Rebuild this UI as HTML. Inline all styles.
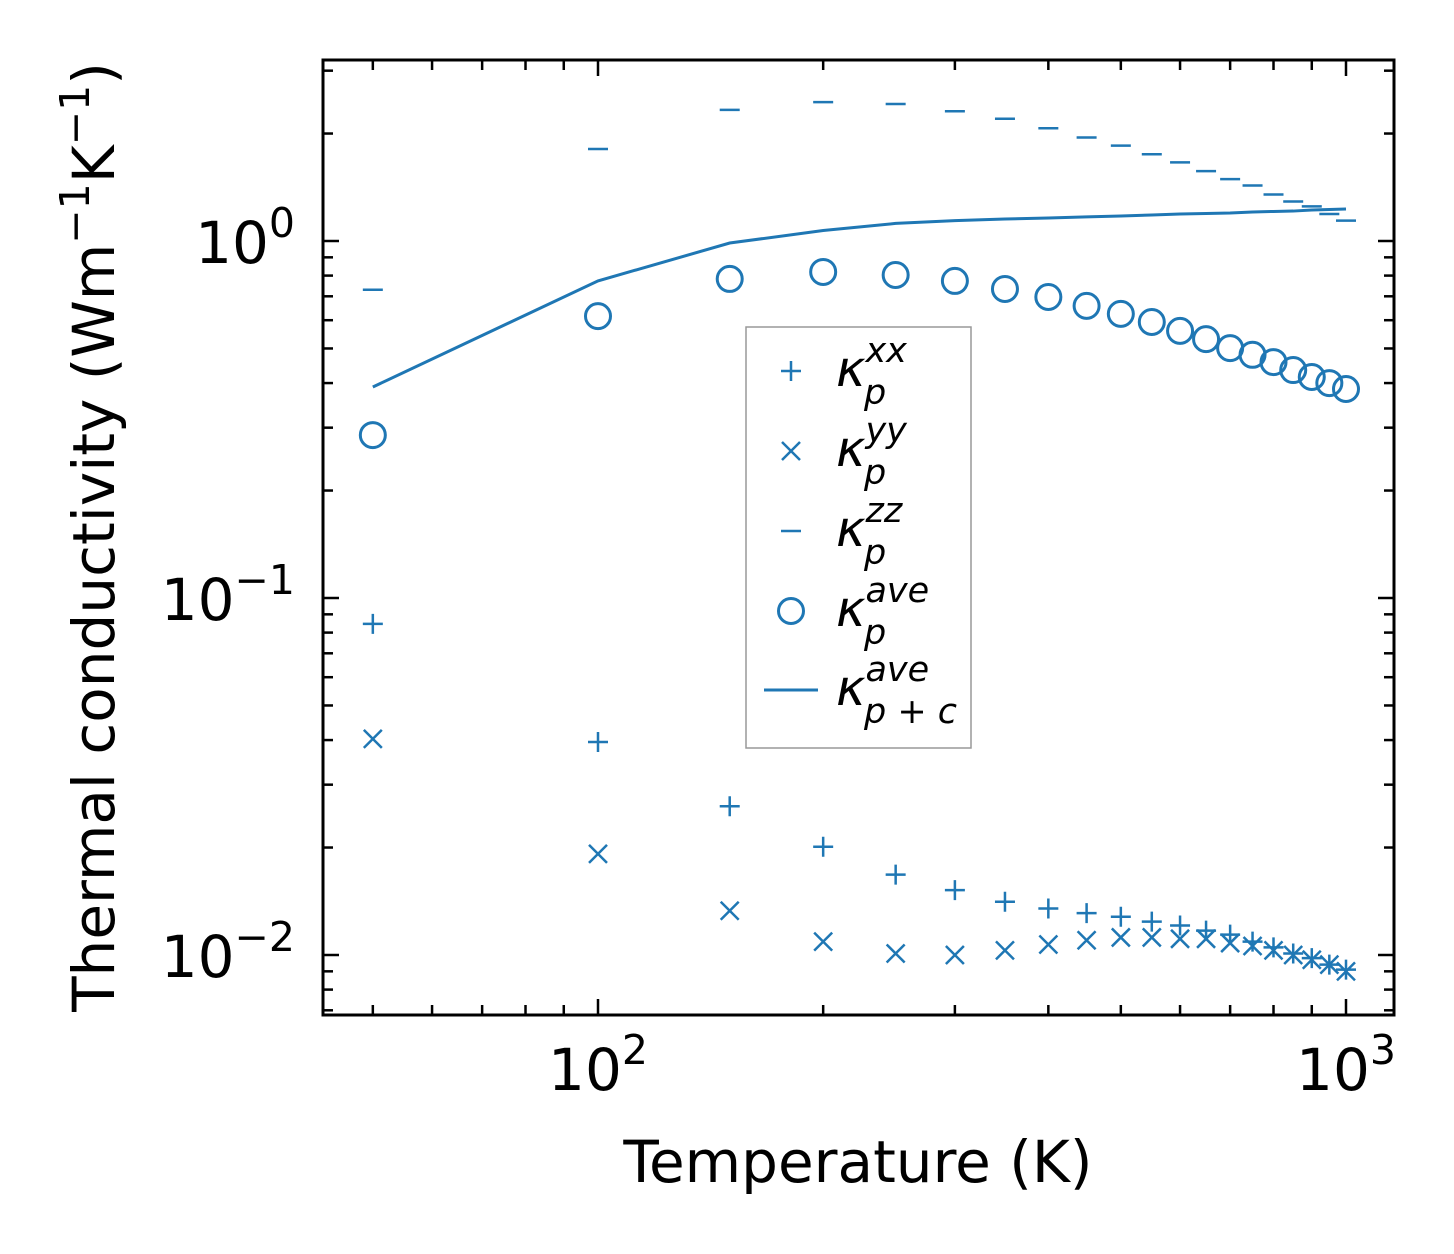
<!DOCTYPE html>
<html><head><meta charset="utf-8"><style>
body{margin:0;background:#fff}
svg{display:block}
text{font-family:"DejaVu Sans","Liberation Sans",sans-serif;fill:#000}
</style></head><body>
<svg id="chart" width="1454" height="1254" viewBox="0 0 1454 1254" xmlns="http://www.w3.org/2000/svg">
<rect width="1454" height="1254" fill="#fff"/>
<g id="marks"></g>
<g id="ticks"></g>
<rect x="323" y="60" width="1071" height="955" fill="none" stroke="#000" stroke-width="3"/>
<g id="legend">
<rect x="746" y="327" width="225" height="421" fill="#fff" stroke="#999" stroke-width="1.5"/>
</g>
<text x="858" y="1182" font-size="58" text-anchor="middle">Temperature (K)</text>
<text transform="translate(114,537) rotate(-90)" font-size="58" text-anchor="middle">Thermal conductivity (Wm<tspan font-size="41" dy="-25">−1</tspan><tspan dy="25">K</tspan><tspan font-size="41" dy="-25">−1</tspan><tspan dy="25">)</tspan></text>
</svg>
<script>
const temps=[50,100,150,200,250,300,350,400,450,500,550,600,650,700,750,800,850,900,950,1000];
const kxx=[0.0846,0.0395,0.0261,0.0201,0.0168,0.0152,0.0141,0.0135,0.0131,0.0128,0.0124,0.0121,0.0117,0.0114,0.0109,0.0105,0.0101,0.0098,0.0094,0.0091];
const kyy=[0.0403,0.0192,0.0133,0.0109,0.0101,0.0100,0.0103,0.0107,0.0110,0.0112,0.0112,0.0111,0.0111,0.0108,0.0106,0.0103,0.0100,0.0097,0.0094,0.0090];
const kzz=[0.73,1.81,2.33,2.45,2.42,2.31,2.20,2.07,1.95,1.85,1.75,1.66,1.57,1.49,1.43,1.35,1.29,1.25,1.19,1.14];
const kave=[0.286,0.616,0.783,0.819,0.803,0.773,0.734,0.697,0.658,0.625,0.593,0.560,0.531,0.501,0.480,0.458,0.435,0.416,0.400,0.385];
const kpc=[0.390,0.773,0.987,1.07,1.12,1.14,1.152,1.160,1.168,1.175,1.183,1.190,1.194,1.198,1.206,1.210,1.213,1.221,1.225,1.229];
const xTickVals=[100,1000];
const xTickExp=["2","3"];
const yTickVals=[0.01,0.1,1];
const yTickExp=["−2","−1","0"];

const NS="http://www.w3.org/2000/svg";
const C="#1f77b4";
const X=v=>598+748*Math.log10(v/100);
const Y=v=>241-357*Math.log10(v);
const L=323,R=1394,T=60,B=1015;
function mk(tag,attrs,parent){const e=document.createElementNS(NS,tag);for(const k in attrs)e.setAttribute(k,attrs[k]);parent.appendChild(e);return e;}
const marks=document.getElementById('marks'),ticks=document.getElementById('ticks'),legend=document.getElementById('legend');

let d=temps.map((t,i)=>(i?'L':'M')+X(t)+','+Y(kpc[i])).join(' ');
const ln=mk('path',{d:d,fill:'none',stroke:C,'stroke-width':3},marks);



function plus(x,y,s,p){return mk('path',{d:`M${x-s},${y}H${x+s}M${x},${y-s}V${y+s}`,stroke:C,'stroke-width':2.5,fill:'none'},p);}
function cross(x,y,s,p){return mk('path',{d:`M${x-s},${y-s}L${x+s},${y+s}M${x-s},${y+s}L${x+s},${y-s}`,stroke:C,'stroke-width':2.5,fill:'none'},p);}
function dash(x,y,s,p){return mk('path',{d:`M${x-s},${y}H${x+s}`,stroke:C,'stroke-width':2.5},p);}
function circ(x,y,r,p){return mk('circle',{cx:x,cy:y,r:r,fill:'none',stroke:C,'stroke-width':3},p);}

temps.forEach((t,i)=>{
  const x=X(t);
  let e=plus(x,Y(kxx[i]),10,marks);
  
  
  e=cross(x,Y(kyy[i]),9,marks);
  
  
  e=dash(x,Y(kzz[i]),10,marks);
  
  
  e=circ(x,Y(kave[i]),12.5,marks);
  
  
});

function tk(x1,y1,x2,y2){mk('line',{x1,y1,x2,y2,stroke:'#000','stroke-width':2.5},ticks);}
for(let dec=10;dec<=1000;dec*=10){for(let m=1;m<10;m++){const v=dec*m;const x=X(v);if(x<L+1||x>R-1)continue;const len=m===1?16:10;tk(x,B,x,B-len);tk(x,T,x,T+len);}}
for(let dec=0.001;dec<=1;dec*=10){for(let m=1;m<10;m++){const v=dec*m;const y=Y(v);if(y<T+1||y>B-1)continue;const len=m===1?16:10;tk(L,y,L+len,y);tk(R,y,R-len,y);}}
xTickVals.forEach((v,i)=>{const t=mk('text',{x:X(v),y:1090,'font-size':58,'text-anchor':'middle'},ticks);t.innerHTML=`10<tspan font-size="41" dy="-26">${xTickExp[i]}</tspan>`;});
yTickVals.forEach((v,i)=>{const t=mk('text',{x:295,y:Y(v)+22,'font-size':58,'text-anchor':'end'},ticks);t.innerHTML=`10<tspan font-size="41" dy="-26">${yTickExp[i]}</tspan>`;});

const labs=[["xx","p"],["yy","p"],["zz","p"],["ave","p"],["ave","p + c"]];
const ly=[371,451,531,611,690];
labs.forEach((lab,i)=>{
  const y=ly[i];let e;
  if(i===0)e=plus(791,y,10,legend);else if(i===1)e=cross(791,y,9,legend);else if(i===2)e=dash(791,y,10,legend);else if(i===3)e=circ(791,y,12.5,legend);else e=mk('path',{d:`M764,${y}H818`,stroke:C,'stroke-width':3},legend);
  
  
  const t=mk('text',{x:836,y:y+15,'font-size':50,'font-style':'italic'},legend);
  t.innerHTML=`κ<tspan font-size="35" dy="-24">${lab[0]}</tspan><tspan font-size="35" x="864" dy="42">${lab[1]}</tspan>`;
  
  
});
</script>
</body></html>
